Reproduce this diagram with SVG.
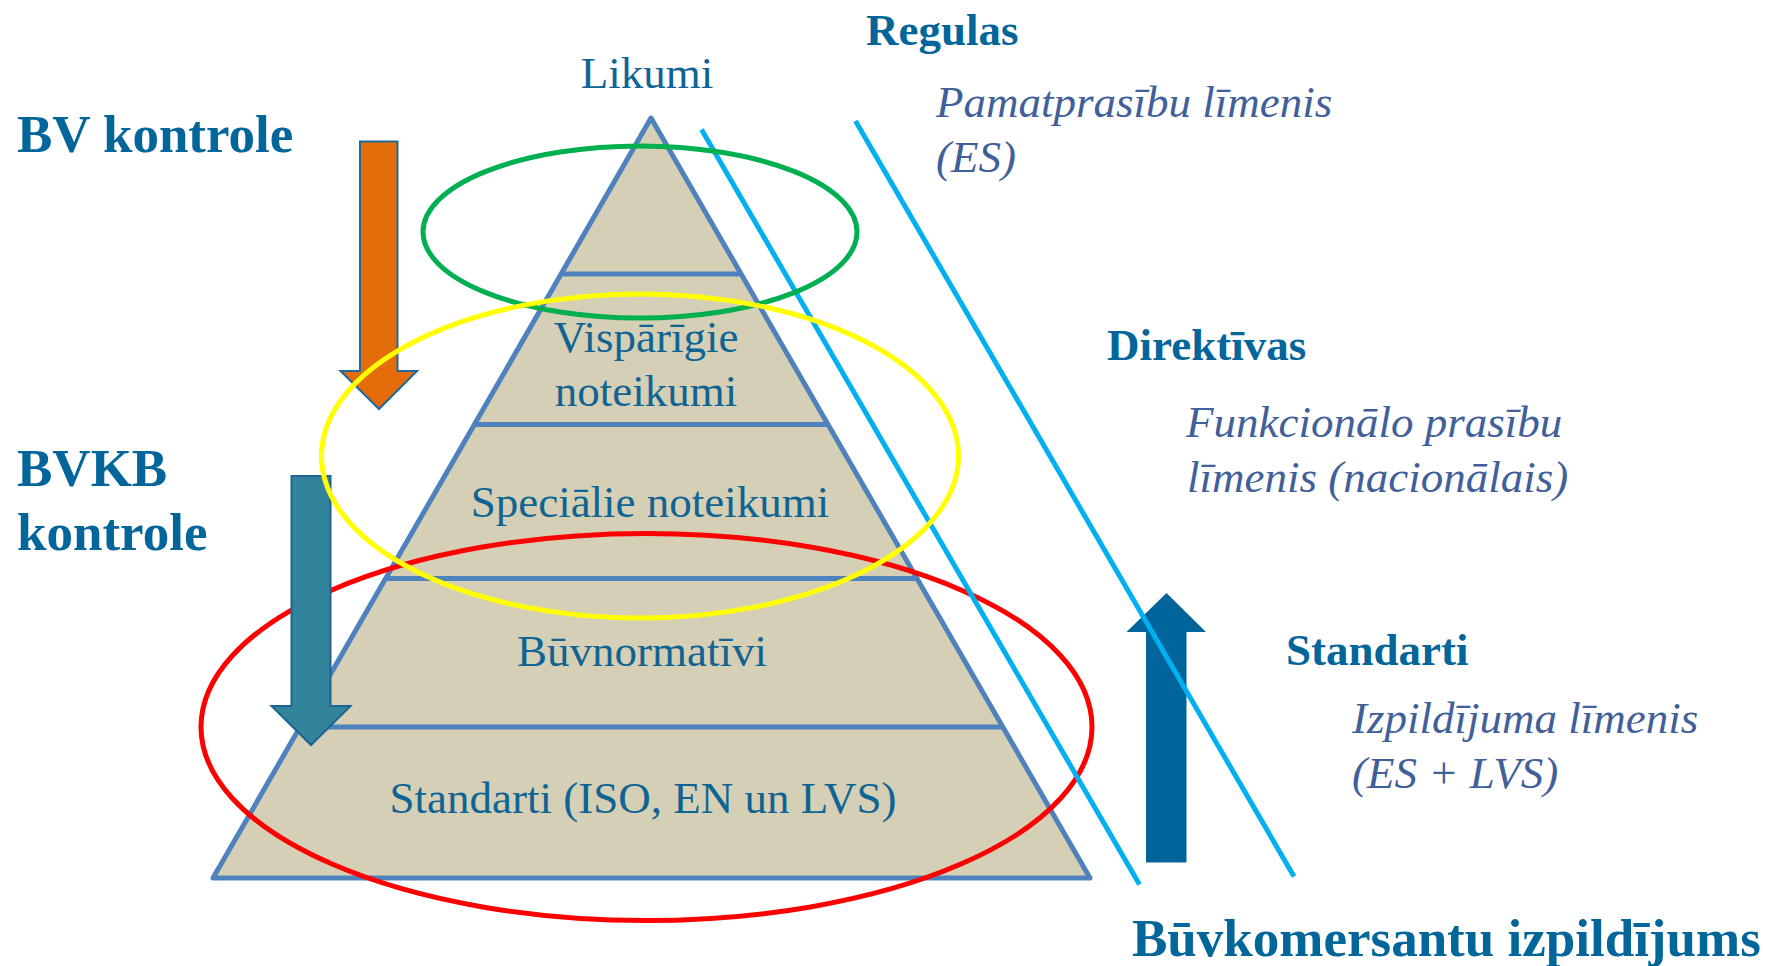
<svg xmlns="http://www.w3.org/2000/svg" width="1765" height="966" viewBox="0 0 1765 966">
<style>
.t{font-family:"Liberation Serif","Times New Roman",serif;}
.h{font-weight:bold;fill:#03669A;}
.p{font-size:45px;fill:#0F6494;}
.i{font-size:45px;font-style:italic;fill:#41609A;}
.band{stroke:#4F81BD;stroke-width:5;}
.ell{fill:none;stroke-width:5;}
.cy{stroke:#00B0F0;stroke-width:5;}
</style>
<rect width="1765" height="966" fill="#ffffff"/>
<g id="pyramid">
<polygon points="651,118 1090,878 213,878" fill="#D5CFB5" stroke="#4F81BD" stroke-width="5" stroke-linejoin="round"/>
<line class="band" x1="561" y1="274" x2="741" y2="274"/>
<line class="band" x1="474.5" y1="424.5" x2="827.5" y2="424.5"/>
<line class="band" x1="385.6" y1="578.5" x2="916.4" y2="578.5"/>
<line class="band" x1="299.6" y1="727" x2="1002.4" y2="727"/>
</g>
<g id="ellipse-red"><ellipse class="ell" cx="646.5" cy="727" rx="445.5" ry="193.5" stroke="#FF0000"/></g>
<g id="connectors">
<polygon id="arrow-bv" points="360,141.5 397.5,141.5 397.5,371 417,371 379,409 340.5,371 360,371" fill="#E46C0A" stroke="#1F6A9A" stroke-width="2"/>
<polygon id="arrow-bvkb" points="291.5,476 330.5,476 330.5,706 350.5,706 311,745 271.5,706 291.5,706" fill="#31849B" stroke="#1F6391" stroke-width="2"/>
<polygon id="arrow-up" points="1146,862.5 1186.5,862.5 1186.5,632 1206,632 1166.5,593 1126.5,632 1146,632" fill="#01659B"/>
<line class="cy" x1="701.5" y1="129.5" x2="1139.5" y2="884.5"/>
<line class="cy" x1="855.5" y1="121" x2="1294" y2="876.5"/>
</g>
<g id="ellipse-green"><ellipse class="ell" cx="640" cy="232" rx="217" ry="86" stroke="#00B050"/></g>
<g id="ellipse-yellow"><ellipse class="ell" cx="640" cy="456" rx="318.5" ry="162" stroke="#FFFF00"/></g>
<g id="labels-pyramid" class="t p" text-anchor="middle">
<text x="647" y="88">Likumi</text>
<text x="646" y="352">Vispārīgie</text>
<text x="646" y="406">noteikumi</text>
<text x="650" y="517">Speciālie noteikumi</text>
<text x="642" y="666">Būvnormatīvi</text>
<text x="643" y="813">Standarti (ISO, EN un LVS)</text>
</g>
<g id="bv-kontrole"><text class="t h" x="17" y="152" font-size="53">BV kontrole</text></g>
<g id="bvkb-kontrole"><text class="t h" font-size="53"><tspan x="17" y="486">BVKB</tspan><tspan x="17" y="550">kontrole</tspan></text></g>
<g id="regulas">
<text class="t h" x="866" y="45" font-size="45">Regulas</text>
<text class="t i"><tspan x="936" y="117">Pamatprasību līmenis</tspan><tspan x="936" y="172">(ES)</tspan></text>
</g>
<g id="direktivas">
<text class="t h" x="1107" y="360" font-size="45">Direktīvas</text>
<text class="t i"><tspan x="1186" y="437">Funkcionālo prasību</tspan><tspan x="1187" y="492">līmenis (nacionālais)</tspan></text>
</g>
<g id="standarti">
<text class="t h" x="1286" y="665" font-size="45">Standarti</text>
<text class="t i"><tspan x="1352" y="733">Izpildījuma līmenis</tspan><tspan x="1352" y="788">(ES + LVS)</tspan></text>
</g>
<g id="izpildijums"><text class="t h" x="1132" y="956" font-size="53">Būvkomersantu izpildījums</text></g>
</svg>
